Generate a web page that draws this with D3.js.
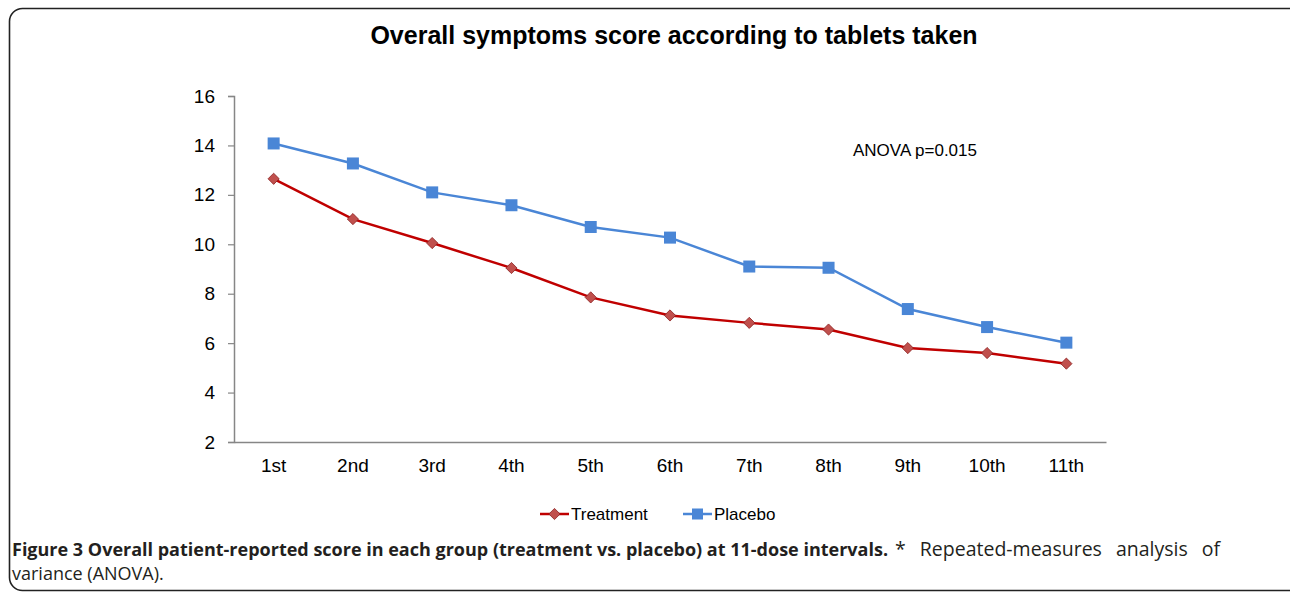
<!DOCTYPE html>
<html><head><meta charset="utf-8">
<script src="https://cdn.jsdelivr.net/npm/d3@7"></script>
<style>body{margin:0;background:#fff}svg{display:block}</style>
</head><body>
<svg id="c" width="1290" height="593"></svg>
<script>
const categories = ["1st","2nd","3rd","4th","5th","6th","7th","8th","9th","10th","11th"];
const treatment = [12.65, 11.02, 10.05, 9.04, 7.85, 7.12, 6.82, 6.55, 5.8, 5.6, 5.17];
const placebo = [14.08, 13.27, 12.1, 11.58, 10.7, 10.27, 9.1, 9.05, 7.38, 6.65, 6.02];
const yTicks = [2,4,6,8,10,12,14,16];
const seriesNames = ["Treatment","Placebo"];

const svg = d3.select("#c");
const F = "Liberation Sans, Arial, sans-serif";
// frame
svg.append("rect").attr("x",9.5).attr("y",8.5).attr("width",1300).attr("height",582)
  .attr("rx",13).attr("fill","none").attr("stroke","#222").attr("stroke-width",1.6);

const x = d3.scaleBand().domain(categories).range([234,1106]);
const y = d3.scaleLinear().domain([2,16]).range([442,96]);
const cx = d => x(d) + x.bandwidth()/2;

svg.append("text").attr("x",674).attr("y",44).attr("text-anchor","middle")
  .attr("font-family",F).attr("font-weight","bold")
  .attr("font-size",25).attr("fill","#000").text("Overall symptoms score according to tablets taken");

// y axis
const ya = svg.append("g").attr("transform","translate(234,0)")
  .call(d3.axisLeft(y).tickValues(yTicks).tickSize(6).tickPadding(13));
ya.select(".domain").attr("stroke","#868686").attr("stroke-width",1.5);
ya.selectAll(".tick line").attr("stroke","#868686").attr("stroke-width",1.2);
ya.selectAll(".tick text").attr("font-family",F).attr("font-size",19).attr("fill","#000");

// x axis
const xa = svg.append("g").attr("transform","translate(0,442)")
  .call(d3.axisBottom(x).tickSize(0).tickPadding(17));
xa.select(".domain").attr("stroke","#868686").attr("stroke-width",1.5);
xa.selectAll(".tick text").attr("font-family",F).attr("font-size",19).attr("fill","#000");

const line = d3.line().x((d,i)=>cx(categories[i])).y(d=>y(d));
const blue = "#4A86D6", red = "#C00000", redMark = "#C0504D", redEdge = "#8B2020";

svg.append("path").datum(placebo).attr("d",line).attr("fill","none").attr("stroke",blue).attr("stroke-width",2.5);
svg.append("path").datum(treatment).attr("d",line).attr("fill","none").attr("stroke",red).attr("stroke-width",2.5);

svg.selectAll(".pm").data(placebo).enter().append("rect")
  .attr("x",(d,i)=>cx(categories[i])-6).attr("y",d=>y(d)-6).attr("width",12).attr("height",12)
  .attr("fill",blue);
const diamond = d3.symbol().type(d3.symbolDiamond2).size(80);
svg.selectAll(".tm").data(treatment).enter().append("path")
  .attr("d",diamond).attr("transform",(d,i)=>`translate(${cx(categories[i])},${y(d)})`)
  .attr("fill",redMark).attr("stroke",redEdge).attr("stroke-width",0.8);

svg.append("text").attr("x",853).attr("y",156)
  .attr("font-family",F).attr("font-size",17).attr("fill","#000")
  .text("ANOVA p=0.015");

// legend
const lg = [{name:seriesNames[0],x:540,color:red,mark:"d"},{name:seriesNames[1],x:683,color:blue,mark:"s"}];
lg.forEach(l=>{
  svg.append("line").attr("x1",l.x).attr("x2",l.x+29).attr("y1",514).attr("y2",514).attr("stroke",l.color).attr("stroke-width",2.5);
  if(l.mark==="d"){
    svg.append("path").attr("d",diamond).attr("transform",`translate(${l.x+14.5},514)`).attr("fill",redMark).attr("stroke",redEdge).attr("stroke-width",0.8);
  } else {
    svg.append("rect").attr("x",l.x+14.5-5.5).attr("y",514-5.5).attr("width",11).attr("height",11).attr("fill",blue);
  }
  svg.append("text").attr("x",l.x+31).attr("y",520).attr("font-family",F)
    .attr("font-size",17).attr("fill","#000").text(l.name);
});

// caption
const cap = svg.append("text").attr("x",12).attr("y",556).attr("font-family","Open Sans, sans-serif").attr("font-size",18).attr("fill","#231f20");
cap.append("tspan").attr("font-weight","bold").text("Figure 3 Overall patient-reported score in each group (treatment vs. placebo) at 11-dose intervals.");
cap.append("tspan").attr("x",895).attr("font-size",19.5).attr("word-spacing",9).text("* Repeated-measures analysis of");
svg.append("text").attr("x",12).attr("y",580).attr("font-family","Open Sans, sans-serif").attr("font-size",18).attr("fill","#231f20").text("variance (ANOVA).");
</script>
</body></html>
